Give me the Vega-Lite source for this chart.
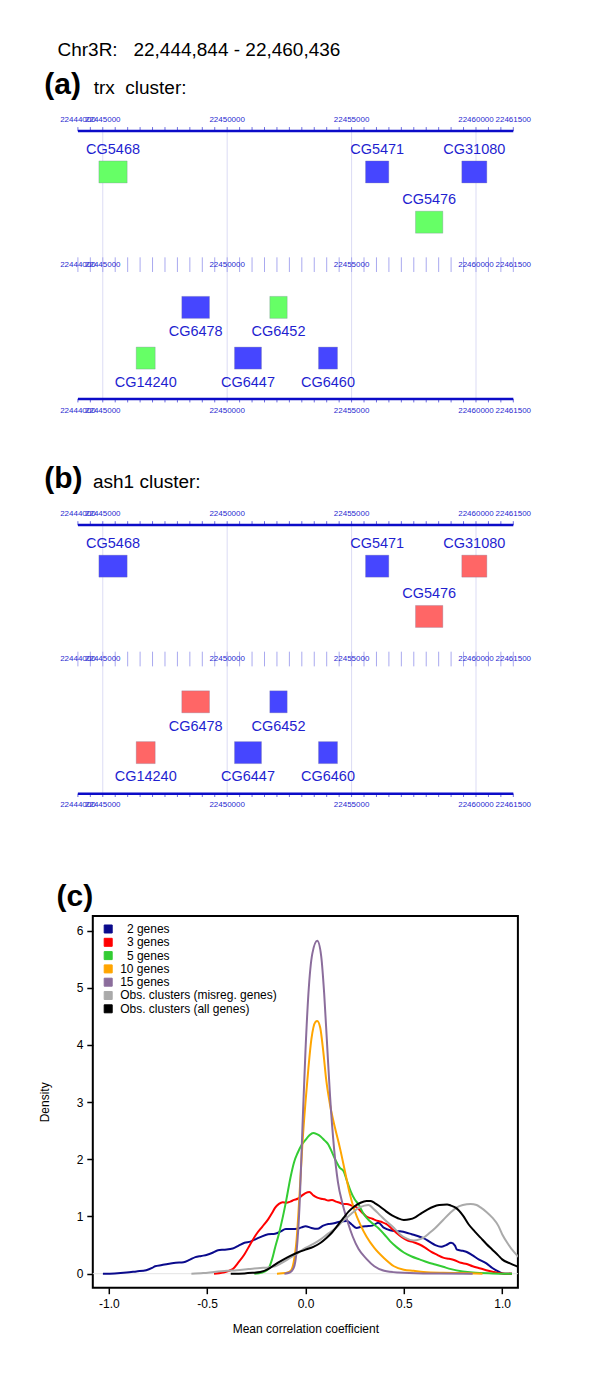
{
  "$schema": "https://vega.github.io/schema/vega-lite/v6.json",
  "background": "white",
  "padding": {"left": 36.8, "top": 0, "right": 4, "bottom": 4},
  "config": {"view": {"stroke": null}, "font": "Liberation Sans"},
  "bounds": "flush",
  "spacing": 0,
  "datasets": {
    "genes": [
      {"gene": "CG5468", "start": 22444844, "end": 22445980, "strand": "+", "lane": 0.917, "trx": "trx cluster", "ash1": "other"},
      {"gene": "CG5471", "start": 22455560, "end": 22456496, "strand": "+", "lane": 0.917, "trx": "other", "ash1": "other"},
      {"gene": "CG31080", "start": 22459430, "end": 22460436, "strand": "+", "lane": 0.917, "trx": "other", "ash1": "ash1 cluster"},
      {"gene": "CG5476", "start": 22457569, "end": 22458667, "strand": "+", "lane": 2.041, "trx": "trx cluster", "ash1": "ash1 cluster"},
      {"gene": "CG6478", "start": 22448176, "end": 22449289, "strand": "-", "lane": 3.948, "trx": "other", "ash1": "ash1 cluster"},
      {"gene": "CG6452", "start": 22451713, "end": 22452412, "strand": "-", "lane": 3.948, "trx": "trx cluster", "ash1": "other"},
      {"gene": "CG14240", "start": 22446343, "end": 22447107, "strand": "-", "lane": 5.083, "trx": "trx cluster", "ash1": "ash1 cluster"},
      {"gene": "CG6447", "start": 22450294, "end": 22451379, "strand": "-", "lane": 5.083, "trx": "other", "ash1": "other"},
      {"gene": "CG6460", "start": 22453670, "end": 22454434, "strand": "-", "lane": 5.083, "trx": "other", "ash1": "other"}
    ],
    "ticks": [
      {"pos": 22444000}, {"pos": 22444500}, {"pos": 22445000}, {"pos": 22445500}, {"pos": 22446000}, {"pos": 22446500},
      {"pos": 22447000}, {"pos": 22447500}, {"pos": 22448000}, {"pos": 22448500}, {"pos": 22449000}, {"pos": 22449500},
      {"pos": 22450000}, {"pos": 22450500}, {"pos": 22451000}, {"pos": 22451500}, {"pos": 22452000}, {"pos": 22452500},
      {"pos": 22453000}, {"pos": 22453500}, {"pos": 22454000}, {"pos": 22454500}, {"pos": 22455000}, {"pos": 22455500},
      {"pos": 22456000}, {"pos": 22456500}, {"pos": 22457000}, {"pos": 22457500}, {"pos": 22458000}, {"pos": 22458500},
      {"pos": 22459000}, {"pos": 22459500}, {"pos": 22460000}, {"pos": 22460500}, {"pos": 22461000}, {"pos": 22461500}
    ],
    "majors": [{"pos": 22445000}, {"pos": 22450000}, {"pos": 22455000}, {"pos": 22460000}],
    "labels": [{"pos": 22444000}, {"pos": 22445000}, {"pos": 22450000}, {"pos": 22455000}, {"pos": 22460000}, {"pos": 22461500}],
    "axislines": [{"from": 22444000, "to": 22461500, "lane": 0}, {"from": 22444000, "to": 22461500, "lane": 6}],
    "density": [
      {"series": "2 genes", "corr": -1.03, "density": 0}, {"series": "2 genes", "corr": -0.97, "density": 0.005}, {"series": "2 genes", "corr": -0.91, "density": 0.02}, {"series": "2 genes", "corr": -0.86, "density": 0.04}, {"series": "2 genes", "corr": -0.81, "density": 0.06}, {"series": "2 genes", "corr": -0.78, "density": 0.1}, {"series": "2 genes", "corr": -0.765, "density": 0.13}, {"series": "2 genes", "corr": -0.73, "density": 0.15}, {"series": "2 genes", "corr": -0.7, "density": 0.17}, {"series": "2 genes", "corr": -0.66, "density": 0.19}, {"series": "2 genes", "corr": -0.62, "density": 0.2}, {"series": "2 genes", "corr": -0.59, "density": 0.24}, {"series": "2 genes", "corr": -0.56, "density": 0.29}, {"series": "2 genes", "corr": -0.53, "density": 0.31}, {"series": "2 genes", "corr": -0.5, "density": 0.33}, {"series": "2 genes", "corr": -0.47, "density": 0.37}, {"series": "2 genes", "corr": -0.445, "density": 0.41}, {"series": "2 genes", "corr": -0.41, "density": 0.42}, {"series": "2 genes", "corr": -0.37, "density": 0.44}, {"series": "2 genes", "corr": -0.34, "density": 0.49}, {"series": "2 genes", "corr": -0.31, "density": 0.54}, {"series": "2 genes", "corr": -0.28, "density": 0.56}, {"series": "2 genes", "corr": -0.25, "density": 0.61}, {"series": "2 genes", "corr": -0.23, "density": 0.64}, {"series": "2 genes", "corr": -0.19, "density": 0.69}, {"series": "2 genes", "corr": -0.155, "density": 0.7}, {"series": "2 genes", "corr": -0.13, "density": 0.73}, {"series": "2 genes", "corr": -0.1, "density": 0.78}, {"series": "2 genes", "corr": -0.07, "density": 0.78}, {"series": "2 genes", "corr": -0.04, "density": 0.785}, {"series": "2 genes", "corr": -0.02, "density": 0.81}, {"series": "2 genes", "corr": 0.0, "density": 0.83}, {"series": "2 genes", "corr": 0.03, "density": 0.8}, {"series": "2 genes", "corr": 0.06, "density": 0.785}, {"series": "2 genes", "corr": 0.09, "density": 0.84}, {"series": "2 genes", "corr": 0.116, "density": 0.87}, {"series": "2 genes", "corr": 0.145, "density": 0.88}, {"series": "2 genes", "corr": 0.174, "density": 0.91}, {"series": "2 genes", "corr": 0.21, "density": 0.92}, {"series": "2 genes", "corr": 0.235, "density": 0.86}, {"series": "2 genes", "corr": 0.26, "density": 0.8}, {"series": "2 genes", "corr": 0.285, "density": 0.82}, {"series": "2 genes", "corr": 0.31, "density": 0.83}, {"series": "2 genes", "corr": 0.34, "density": 0.84}, {"series": "2 genes", "corr": 0.37, "density": 0.89}, {"series": "2 genes", "corr": 0.4, "density": 0.8}, {"series": "2 genes", "corr": 0.43, "density": 0.76}, {"series": "2 genes", "corr": 0.48, "density": 0.74}, {"series": "2 genes", "corr": 0.51, "density": 0.72}, {"series": "2 genes", "corr": 0.54, "density": 0.69}, {"series": "2 genes", "corr": 0.57, "density": 0.66}, {"series": "2 genes", "corr": 0.6, "density": 0.62}, {"series": "2 genes", "corr": 0.63, "density": 0.56}, {"series": "2 genes", "corr": 0.66, "density": 0.5}, {"series": "2 genes", "corr": 0.69, "density": 0.47}, {"series": "2 genes", "corr": 0.715, "density": 0.5}, {"series": "2 genes", "corr": 0.74, "density": 0.54}, {"series": "2 genes", "corr": 0.76, "density": 0.49}, {"series": "2 genes", "corr": 0.77, "density": 0.42}, {"series": "2 genes", "corr": 0.8, "density": 0.4}, {"series": "2 genes", "corr": 0.82, "density": 0.38}, {"series": "2 genes", "corr": 0.85, "density": 0.32}, {"series": "2 genes", "corr": 0.88, "density": 0.25}, {"series": "2 genes", "corr": 0.92, "density": 0.18}, {"series": "2 genes", "corr": 0.95, "density": 0.1}, {"series": "2 genes", "corr": 0.98, "density": 0.04}, {"series": "2 genes", "corr": 1.01, "density": 0.0}, {"series": "2 genes", "corr": 1.05, "density": 0.0},
      {"series": "3 genes", "corr": -0.465, "density": 0}, {"series": "3 genes", "corr": -0.42, "density": 0.02}, {"series": "3 genes", "corr": -0.37, "density": 0.08}, {"series": "3 genes", "corr": -0.34, "density": 0.2}, {"series": "3 genes", "corr": -0.31, "density": 0.34}, {"series": "3 genes", "corr": -0.28, "density": 0.52}, {"series": "3 genes", "corr": -0.25, "density": 0.69}, {"series": "3 genes", "corr": -0.22, "density": 0.82}, {"series": "3 genes", "corr": -0.19, "density": 0.95}, {"series": "3 genes", "corr": -0.17, "density": 1.06}, {"series": "3 genes", "corr": -0.155, "density": 1.15}, {"series": "3 genes", "corr": -0.135, "density": 1.22}, {"series": "3 genes", "corr": -0.116, "density": 1.25}, {"series": "3 genes", "corr": -0.097, "density": 1.24}, {"series": "3 genes", "corr": -0.077, "density": 1.26}, {"series": "3 genes", "corr": -0.058, "density": 1.29}, {"series": "3 genes", "corr": -0.04, "density": 1.31}, {"series": "3 genes", "corr": -0.02, "density": 1.36}, {"series": "3 genes", "corr": 0.0, "density": 1.41}, {"series": "3 genes", "corr": 0.02, "density": 1.43}, {"series": "3 genes", "corr": 0.04, "density": 1.37}, {"series": "3 genes", "corr": 0.06, "density": 1.33}, {"series": "3 genes", "corr": 0.08, "density": 1.31}, {"series": "3 genes", "corr": 0.097, "density": 1.3}, {"series": "3 genes", "corr": 0.115, "density": 1.28}, {"series": "3 genes", "corr": 0.135, "density": 1.29}, {"series": "3 genes", "corr": 0.155, "density": 1.26}, {"series": "3 genes", "corr": 0.174, "density": 1.24}, {"series": "3 genes", "corr": 0.19, "density": 1.22}, {"series": "3 genes", "corr": 0.21, "density": 1.22}, {"series": "3 genes", "corr": 0.235, "density": 1.19}, {"series": "3 genes", "corr": 0.26, "density": 1.16}, {"series": "3 genes", "corr": 0.285, "density": 1.08}, {"series": "3 genes", "corr": 0.31, "density": 1.0}, {"series": "3 genes", "corr": 0.34, "density": 0.96}, {"series": "3 genes", "corr": 0.37, "density": 0.92}, {"series": "3 genes", "corr": 0.39, "density": 0.9}, {"series": "3 genes", "corr": 0.41, "density": 0.87}, {"series": "3 genes", "corr": 0.435, "density": 0.8}, {"series": "3 genes", "corr": 0.46, "density": 0.72}, {"series": "3 genes", "corr": 0.49, "density": 0.64}, {"series": "3 genes", "corr": 0.52, "density": 0.58}, {"series": "3 genes", "corr": 0.55, "density": 0.55}, {"series": "3 genes", "corr": 0.58, "density": 0.51}, {"series": "3 genes", "corr": 0.61, "density": 0.45}, {"series": "3 genes", "corr": 0.64, "density": 0.38}, {"series": "3 genes", "corr": 0.67, "density": 0.33}, {"series": "3 genes", "corr": 0.7, "density": 0.28}, {"series": "3 genes", "corr": 0.73, "density": 0.26}, {"series": "3 genes", "corr": 0.755, "density": 0.24}, {"series": "3 genes", "corr": 0.79, "density": 0.19}, {"series": "3 genes", "corr": 0.82, "density": 0.17}, {"series": "3 genes", "corr": 0.85, "density": 0.13}, {"series": "3 genes", "corr": 0.89, "density": 0.09}, {"series": "3 genes", "corr": 0.93, "density": 0.05}, {"series": "3 genes", "corr": 0.97, "density": 0.02}, {"series": "3 genes", "corr": 1.0, "density": 0.005}, {"series": "3 genes", "corr": 1.05, "density": 0},
      {"series": "5 genes", "corr": -0.26, "density": 0}, {"series": "5 genes", "corr": -0.22, "density": 0.02}, {"series": "5 genes", "corr": -0.19, "density": 0.08}, {"series": "5 genes", "corr": -0.17, "density": 0.25}, {"series": "5 genes", "corr": -0.155, "density": 0.45}, {"series": "5 genes", "corr": -0.135, "density": 0.7}, {"series": "5 genes", "corr": -0.116, "density": 0.98}, {"series": "5 genes", "corr": -0.097, "density": 1.3}, {"series": "5 genes", "corr": -0.077, "density": 1.67}, {"series": "5 genes", "corr": -0.058, "density": 1.95}, {"series": "5 genes", "corr": -0.04, "density": 2.11}, {"series": "5 genes", "corr": -0.02, "density": 2.25}, {"series": "5 genes", "corr": 0.0, "density": 2.34}, {"series": "5 genes", "corr": 0.02, "density": 2.42}, {"series": "5 genes", "corr": 0.039, "density": 2.46}, {"series": "5 genes", "corr": 0.058, "density": 2.44}, {"series": "5 genes", "corr": 0.077, "density": 2.4}, {"series": "5 genes", "corr": 0.097, "density": 2.33}, {"series": "5 genes", "corr": 0.116, "density": 2.26}, {"series": "5 genes", "corr": 0.135, "density": 2.12}, {"series": "5 genes", "corr": 0.155, "density": 1.97}, {"series": "5 genes", "corr": 0.175, "density": 1.85}, {"series": "5 genes", "corr": 0.194, "density": 1.79}, {"series": "5 genes", "corr": 0.21, "density": 1.63}, {"series": "5 genes", "corr": 0.23, "density": 1.44}, {"series": "5 genes", "corr": 0.25, "density": 1.3}, {"series": "5 genes", "corr": 0.27, "density": 1.21}, {"series": "5 genes", "corr": 0.29, "density": 1.08}, {"series": "5 genes", "corr": 0.31, "density": 0.98}, {"series": "5 genes", "corr": 0.34, "density": 0.88}, {"series": "5 genes", "corr": 0.37, "density": 0.8}, {"series": "5 genes", "corr": 0.4, "density": 0.69}, {"series": "5 genes", "corr": 0.43, "density": 0.57}, {"series": "5 genes", "corr": 0.465, "density": 0.46}, {"series": "5 genes", "corr": 0.5, "density": 0.37}, {"series": "5 genes", "corr": 0.54, "density": 0.3}, {"series": "5 genes", "corr": 0.58, "density": 0.25}, {"series": "5 genes", "corr": 0.62, "density": 0.2}, {"series": "5 genes", "corr": 0.66, "density": 0.16}, {"series": "5 genes", "corr": 0.7, "density": 0.12}, {"series": "5 genes", "corr": 0.74, "density": 0.08}, {"series": "5 genes", "corr": 0.8, "density": 0.04}, {"series": "5 genes", "corr": 0.85, "density": 0.02}, {"series": "5 genes", "corr": 0.95, "density": 0.005}, {"series": "5 genes", "corr": 1.05, "density": 0},
      {"series": "10 genes", "corr": -0.145, "density": 0}, {"series": "10 genes", "corr": -0.1, "density": 0.01}, {"series": "10 genes", "corr": -0.075, "density": 0.05}, {"series": "10 genes", "corr": -0.06, "density": 0.2}, {"series": "10 genes", "corr": -0.045, "density": 0.6}, {"series": "10 genes", "corr": -0.03, "density": 1.4}, {"series": "10 genes", "corr": -0.015, "density": 2.3}, {"series": "10 genes", "corr": 0.0, "density": 3.0}, {"series": "10 genes", "corr": 0.015, "density": 3.6}, {"series": "10 genes", "corr": 0.03, "density": 4.1}, {"series": "10 genes", "corr": 0.05, "density": 4.4}, {"series": "10 genes", "corr": 0.06, "density": 4.42}, {"series": "10 genes", "corr": 0.075, "density": 4.3}, {"series": "10 genes", "corr": 0.09, "density": 3.9}, {"series": "10 genes", "corr": 0.105, "density": 3.4}, {"series": "10 genes", "corr": 0.125, "density": 2.95}, {"series": "10 genes", "corr": 0.15, "density": 2.55}, {"series": "10 genes", "corr": 0.175, "density": 2.2}, {"series": "10 genes", "corr": 0.2, "density": 1.8}, {"series": "10 genes", "corr": 0.225, "density": 1.4}, {"series": "10 genes", "corr": 0.25, "density": 1.1}, {"series": "10 genes", "corr": 0.28, "density": 0.85}, {"series": "10 genes", "corr": 0.31, "density": 0.65}, {"series": "10 genes", "corr": 0.35, "density": 0.45}, {"series": "10 genes", "corr": 0.4, "density": 0.27}, {"series": "10 genes", "corr": 0.45, "density": 0.13}, {"series": "10 genes", "corr": 0.5, "density": 0.07}, {"series": "10 genes", "corr": 0.55, "density": 0.05}, {"series": "10 genes", "corr": 0.6, "density": 0.03}, {"series": "10 genes", "corr": 0.7, "density": 0.015}, {"series": "10 genes", "corr": 0.8, "density": 0.01}, {"series": "10 genes", "corr": 0.9, "density": 0},
      {"series": "15 genes", "corr": -0.107, "density": 0}, {"series": "15 genes", "corr": -0.08, "density": 0.02}, {"series": "15 genes", "corr": -0.06, "density": 0.1}, {"series": "15 genes", "corr": -0.045, "density": 0.4}, {"series": "15 genes", "corr": -0.03, "density": 1.2}, {"series": "15 genes", "corr": -0.015, "density": 2.6}, {"series": "15 genes", "corr": 0.0, "density": 3.9}, {"series": "15 genes", "corr": 0.015, "density": 4.9}, {"series": "15 genes", "corr": 0.035, "density": 5.6}, {"series": "15 genes", "corr": 0.06, "density": 5.82}, {"series": "15 genes", "corr": 0.08, "density": 5.55}, {"series": "15 genes", "corr": 0.095, "density": 4.9}, {"series": "15 genes", "corr": 0.11, "density": 4.0}, {"series": "15 genes", "corr": 0.125, "density": 3.1}, {"series": "15 genes", "corr": 0.145, "density": 2.2}, {"series": "15 genes", "corr": 0.165, "density": 1.6}, {"series": "15 genes", "corr": 0.19, "density": 1.2}, {"series": "15 genes", "corr": 0.215, "density": 0.9}, {"series": "15 genes", "corr": 0.24, "density": 0.65}, {"series": "15 genes", "corr": 0.27, "density": 0.43}, {"series": "15 genes", "corr": 0.31, "density": 0.26}, {"series": "15 genes", "corr": 0.35, "density": 0.13}, {"series": "15 genes", "corr": 0.4, "density": 0.05}, {"series": "15 genes", "corr": 0.47, "density": 0.02}, {"series": "15 genes", "corr": 0.6, "density": 0.005}, {"series": "15 genes", "corr": 0.85, "density": 0},
      {"series": "Obs. clusters (misreg. genes)", "corr": -0.58, "density": 0}, {"series": "Obs. clusters (misreg. genes)", "corr": -0.52, "density": 0.01}, {"series": "Obs. clusters (misreg. genes)", "corr": -0.465, "density": 0.03}, {"series": "Obs. clusters (misreg. genes)", "corr": -0.4, "density": 0.05}, {"series": "Obs. clusters (misreg. genes)", "corr": -0.35, "density": 0.06}, {"series": "Obs. clusters (misreg. genes)", "corr": -0.29, "density": 0.08}, {"series": "Obs. clusters (misreg. genes)", "corr": -0.23, "density": 0.1}, {"series": "Obs. clusters (misreg. genes)", "corr": -0.19, "density": 0.11}, {"series": "Obs. clusters (misreg. genes)", "corr": -0.155, "density": 0.13}, {"series": "Obs. clusters (misreg. genes)", "corr": -0.12, "density": 0.19}, {"series": "Obs. clusters (misreg. genes)", "corr": -0.077, "density": 0.28}, {"series": "Obs. clusters (misreg. genes)", "corr": -0.04, "density": 0.36}, {"series": "Obs. clusters (misreg. genes)", "corr": 0.0, "density": 0.45}, {"series": "Obs. clusters (misreg. genes)", "corr": 0.04, "density": 0.52}, {"series": "Obs. clusters (misreg. genes)", "corr": 0.077, "density": 0.6}, {"series": "Obs. clusters (misreg. genes)", "corr": 0.115, "density": 0.7}, {"series": "Obs. clusters (misreg. genes)", "corr": 0.155, "density": 0.8}, {"series": "Obs. clusters (misreg. genes)", "corr": 0.19, "density": 0.92}, {"series": "Obs. clusters (misreg. genes)", "corr": 0.21, "density": 0.98}, {"series": "Obs. clusters (misreg. genes)", "corr": 0.24, "density": 1.07}, {"series": "Obs. clusters (misreg. genes)", "corr": 0.27, "density": 1.15}, {"series": "Obs. clusters (misreg. genes)", "corr": 0.3, "density": 1.19}, {"series": "Obs. clusters (misreg. genes)", "corr": 0.32, "density": 1.2}, {"series": "Obs. clusters (misreg. genes)", "corr": 0.35, "density": 1.12}, {"series": "Obs. clusters (misreg. genes)", "corr": 0.38, "density": 1.02}, {"series": "Obs. clusters (misreg. genes)", "corr": 0.41, "density": 0.92}, {"series": "Obs. clusters (misreg. genes)", "corr": 0.45, "density": 0.8}, {"series": "Obs. clusters (misreg. genes)", "corr": 0.48, "density": 0.69}, {"series": "Obs. clusters (misreg. genes)", "corr": 0.51, "density": 0.62}, {"series": "Obs. clusters (misreg. genes)", "corr": 0.55, "density": 0.58}, {"series": "Obs. clusters (misreg. genes)", "corr": 0.58, "density": 0.6}, {"series": "Obs. clusters (misreg. genes)", "corr": 0.6, "density": 0.63}, {"series": "Obs. clusters (misreg. genes)", "corr": 0.63, "density": 0.71}, {"series": "Obs. clusters (misreg. genes)", "corr": 0.66, "density": 0.8}, {"series": "Obs. clusters (misreg. genes)", "corr": 0.7, "density": 0.94}, {"series": "Obs. clusters (misreg. genes)", "corr": 0.735, "density": 1.06}, {"series": "Obs. clusters (misreg. genes)", "corr": 0.77, "density": 1.16}, {"series": "Obs. clusters (misreg. genes)", "corr": 0.8, "density": 1.2}, {"series": "Obs. clusters (misreg. genes)", "corr": 0.84, "density": 1.22}, {"series": "Obs. clusters (misreg. genes)", "corr": 0.87, "density": 1.2}, {"series": "Obs. clusters (misreg. genes)", "corr": 0.89, "density": 1.16}, {"series": "Obs. clusters (misreg. genes)", "corr": 0.92, "density": 1.08}, {"series": "Obs. clusters (misreg. genes)", "corr": 0.95, "density": 0.98}, {"series": "Obs. clusters (misreg. genes)", "corr": 0.98, "density": 0.84}, {"series": "Obs. clusters (misreg. genes)", "corr": 1.0, "density": 0.69}, {"series": "Obs. clusters (misreg. genes)", "corr": 1.03, "density": 0.52}, {"series": "Obs. clusters (misreg. genes)", "corr": 1.06, "density": 0.38}, {"series": "Obs. clusters (misreg. genes)", "corr": 1.09, "density": 0.27},
      {"series": "Obs. clusters (all genes)", "corr": -0.38, "density": 0}, {"series": "Obs. clusters (all genes)", "corr": -0.31, "density": 0.005}, {"series": "Obs. clusters (all genes)", "corr": -0.27, "density": 0.015}, {"series": "Obs. clusters (all genes)", "corr": -0.23, "density": 0.03}, {"series": "Obs. clusters (all genes)", "corr": -0.19, "density": 0.08}, {"series": "Obs. clusters (all genes)", "corr": -0.155, "density": 0.16}, {"series": "Obs. clusters (all genes)", "corr": -0.115, "density": 0.24}, {"series": "Obs. clusters (all genes)", "corr": -0.077, "density": 0.31}, {"series": "Obs. clusters (all genes)", "corr": -0.04, "density": 0.37}, {"series": "Obs. clusters (all genes)", "corr": 0.0, "density": 0.42}, {"series": "Obs. clusters (all genes)", "corr": 0.04, "density": 0.47}, {"series": "Obs. clusters (all genes)", "corr": 0.077, "density": 0.54}, {"series": "Obs. clusters (all genes)", "corr": 0.105, "density": 0.62}, {"series": "Obs. clusters (all genes)", "corr": 0.135, "density": 0.72}, {"series": "Obs. clusters (all genes)", "corr": 0.165, "density": 0.85}, {"series": "Obs. clusters (all genes)", "corr": 0.194, "density": 0.98}, {"series": "Obs. clusters (all genes)", "corr": 0.22, "density": 1.09}, {"series": "Obs. clusters (all genes)", "corr": 0.25, "density": 1.18}, {"series": "Obs. clusters (all genes)", "corr": 0.28, "density": 1.24}, {"series": "Obs. clusters (all genes)", "corr": 0.31, "density": 1.27}, {"series": "Obs. clusters (all genes)", "corr": 0.33, "density": 1.27}, {"series": "Obs. clusters (all genes)", "corr": 0.35, "density": 1.24}, {"series": "Obs. clusters (all genes)", "corr": 0.38, "density": 1.17}, {"series": "Obs. clusters (all genes)", "corr": 0.41, "density": 1.09}, {"series": "Obs. clusters (all genes)", "corr": 0.44, "density": 1.02}, {"series": "Obs. clusters (all genes)", "corr": 0.47, "density": 0.97}, {"series": "Obs. clusters (all genes)", "corr": 0.5, "density": 0.94}, {"series": "Obs. clusters (all genes)", "corr": 0.53, "density": 0.95}, {"series": "Obs. clusters (all genes)", "corr": 0.56, "density": 0.99}, {"series": "Obs. clusters (all genes)", "corr": 0.59, "density": 1.06}, {"series": "Obs. clusters (all genes)", "corr": 0.62, "density": 1.12}, {"series": "Obs. clusters (all genes)", "corr": 0.65, "density": 1.17}, {"series": "Obs. clusters (all genes)", "corr": 0.68, "density": 1.2}, {"series": "Obs. clusters (all genes)", "corr": 0.72, "density": 1.21}, {"series": "Obs. clusters (all genes)", "corr": 0.74, "density": 1.19}, {"series": "Obs. clusters (all genes)", "corr": 0.765, "density": 1.15}, {"series": "Obs. clusters (all genes)", "corr": 0.8, "density": 1.02}, {"series": "Obs. clusters (all genes)", "corr": 0.83, "density": 0.86}, {"series": "Obs. clusters (all genes)", "corr": 0.86, "density": 0.74}, {"series": "Obs. clusters (all genes)", "corr": 0.89, "density": 0.63}, {"series": "Obs. clusters (all genes)", "corr": 0.92, "density": 0.52}, {"series": "Obs. clusters (all genes)", "corr": 0.95, "density": 0.42}, {"series": "Obs. clusters (all genes)", "corr": 0.98, "density": 0.32}, {"series": "Obs. clusters (all genes)", "corr": 1.0, "density": 0.25}, {"series": "Obs. clusters (all genes)", "corr": 1.04, "density": 0.18}, {"series": "Obs. clusters (all genes)", "corr": 1.075, "density": 0.13}, {"series": "Obs. clusters (all genes)", "corr": 1.09, "density": 0.11}
    ]
  },
  "vconcat": [
    {
      "width": 427.7,
      "height": 439.8,
      "layer": [
        {"data": {"name": "majors"}, "mark": {"type": "rule", "color": "#dcdcf4", "strokeWidth": 1},
         "encoding": {"x": {"field": "pos", "type": "quantitative", "scale": {"domain": [22444599, 22461789], "nice": false, "zero": false}, "axis": null},
                      "y": {"datum": 0, "type": "quantitative", "scale": {"domain": [-2.82, 6.8], "reverse": true, "nice": false, "zero": false}, "axis": null}, "y2": {"datum": 6}}},
        {"data": {"name": "ticks"}, "mark": {"type": "rule", "color": "#a9a9ef", "strokeWidth": 1},
         "encoding": {"x": {"field": "pos", "type": "quantitative", "scale": {"domain": [22444599, 22461789], "nice": false, "zero": false}, "axis": null},
                      "y": {"datum": 2.828, "type": "quantitative", "scale": {"domain": [-2.82, 6.8], "reverse": true, "nice": false, "zero": false}, "axis": null}, "y2": {"datum": 3.156}}},
        {"data": {"name": "ticks"}, "mark": {"type": "rule", "color": "#6a6ae0", "strokeWidth": 1},
         "encoding": {"x": {"field": "pos", "type": "quantitative", "scale": {"domain": [22444599, 22461789], "nice": false, "zero": false}, "axis": null},
                      "y": {"datum": -0.0875, "type": "quantitative", "scale": {"domain": [-2.82, 6.8], "reverse": true, "nice": false, "zero": false}, "axis": null}, "y2": {"datum": 0}}},
        {"data": {"name": "ticks"}, "mark": {"type": "rule", "color": "#6a6ae0", "strokeWidth": 1},
         "encoding": {"x": {"field": "pos", "type": "quantitative", "scale": {"domain": [22444599, 22461789], "nice": false, "zero": false}, "axis": null},
                      "y": {"datum": 6, "type": "quantitative", "scale": {"domain": [-2.82, 6.8], "reverse": true, "nice": false, "zero": false}, "axis": null}, "y2": {"datum": 6.075}}},
        {"data": {"name": "axislines"}, "mark": {"type": "rule", "color": "#0c0cc8", "strokeWidth": 2.5},
         "encoding": {"x": {"field": "from", "type": "quantitative", "scale": {"domain": [22444599, 22461789], "nice": false, "zero": false}, "axis": null}, "x2": {"field": "to"},
                      "y": {"field": "lane", "type": "quantitative", "scale": {"domain": [-2.82, 6.8], "reverse": true, "nice": false, "zero": false}, "axis": null}}},
        {"data": {"name": "labels"}, "mark": {"type": "text", "fontSize": 8, "color": "#2a2ad0", "baseline": "middle", "dy": -10.7},
         "encoding": {"x": {"field": "pos", "type": "quantitative", "scale": {"domain": [22444599, 22461789], "nice": false, "zero": false}, "axis": null},
                      "y": {"datum": 0, "type": "quantitative", "scale": {"domain": [-2.82, 6.8], "reverse": true, "nice": false, "zero": false}, "axis": null},
                      "text": {"field": "pos", "type": "quantitative", "format": "d"}}},
        {"data": {"name": "labels"}, "mark": {"type": "text", "fontSize": 8, "color": "#2a2ad0", "baseline": "middle"},
         "encoding": {"x": {"field": "pos", "type": "quantitative", "scale": {"domain": [22444599, 22461789], "nice": false, "zero": false}, "axis": null},
                      "y": {"datum": 2.997, "type": "quantitative", "scale": {"domain": [-2.82, 6.8], "reverse": true, "nice": false, "zero": false}, "axis": null},
                      "text": {"field": "pos", "type": "quantitative", "format": "d"}}},
        {"data": {"name": "labels"}, "mark": {"type": "text", "fontSize": 8, "color": "#2a2ad0", "baseline": "middle", "dy": 11.7},
         "encoding": {"x": {"field": "pos", "type": "quantitative", "scale": {"domain": [22444599, 22461789], "nice": false, "zero": false}, "axis": null},
                      "y": {"datum": 6, "type": "quantitative", "scale": {"domain": [-2.82, 6.8], "reverse": true, "nice": false, "zero": false}, "axis": null},
                      "text": {"field": "pos", "type": "quantitative", "format": "d"}}},
        {"data": {"name": "genes"}, "mark": {"type": "bar", "orient": "horizontal", "size": 22, "stroke": "#7a7a9a", "strokeWidth": 0.6, "strokeOpacity": 0.5},
         "encoding": {"x": {"field": "start", "type": "quantitative", "scale": {"domain": [22444599, 22461789], "nice": false, "zero": false}, "axis": null}, "x2": {"field": "end"},
                      "y": {"field": "lane", "type": "quantitative", "scale": {"domain": [-2.82, 6.8], "reverse": true, "nice": false, "zero": false}, "axis": null},
                      "fill": {"field": "trx", "type": "nominal", "scale": {"domain": ["trx cluster", "ash1 cluster", "other"], "range": ["#66ff66", "#ff6666", "#4646ff"]}, "legend": null}}},
        {"data": {"name": "genes"},
         "transform": [{"filter": "datum.strand === '+'"}, {"fold": ["start", "end"], "as": ["edge", "pos"]}, {"aggregate": [{"op": "mean", "field": "pos", "as": "mid"}], "groupby": ["gene", "lane"]}],
         "mark": {"type": "text", "fontSize": 14.5, "color": "#1f1fd0", "dy": -18, "baseline": "alphabetic", "align": "center"},
         "encoding": {"x": {"field": "mid", "type": "quantitative", "scale": {"domain": [22444599, 22461789], "nice": false, "zero": false}, "axis": null},
                      "y": {"field": "lane", "type": "quantitative", "scale": {"domain": [-2.82, 6.8], "reverse": true, "nice": false, "zero": false}, "axis": null},
                      "text": {"field": "gene", "type": "nominal"}}},
        {"data": {"name": "genes"},
         "transform": [{"filter": "datum.strand === '-'"}, {"fold": ["start", "end"], "as": ["edge", "pos"]}, {"aggregate": [{"op": "mean", "field": "pos", "as": "mid"}], "groupby": ["gene", "lane"]}],
         "mark": {"type": "text", "fontSize": 14.5, "color": "#1f1fd0", "dy": 28.7, "baseline": "alphabetic", "align": "center"},
         "encoding": {"x": {"field": "mid", "type": "quantitative", "scale": {"domain": [22444599, 22461789], "nice": false, "zero": false}, "axis": null},
                      "y": {"field": "lane", "type": "quantitative", "scale": {"domain": [-2.82, 6.8], "reverse": true, "nice": false, "zero": false}, "axis": null},
                      "text": {"field": "gene", "type": "nominal"}}},
        {"data": {"values": [{}]}, "mark": {"type": "text", "fontSize": 19, "align": "left", "baseline": "alphabetic", "color": "black"},
         "encoding": {"x": {"datum": 22443180, "type": "quantitative", "scale": {"domain": [22444599, 22461789], "nice": false, "zero": false}, "axis": null},
                      "y": {"datum": -1.673, "type": "quantitative", "scale": {"domain": [-2.82, 6.8], "reverse": true, "nice": false, "zero": false}, "axis": null},
                      "text": {"value": "Chr3R:\u00a0\u00a0 22,444,844 - 22,460,436"}}},
        {"data": {"values": [{}]}, "mark": {"type": "text", "fontSize": 30, "fontWeight": "bold", "align": "left", "baseline": "alphabetic", "color": "black"},
         "encoding": {"x": {"datum": 22442650, "type": "quantitative", "scale": {"domain": [22444599, 22461789], "nice": false, "zero": false}, "axis": null},
                      "y": {"datum": -0.831, "type": "quantitative", "scale": {"domain": [-2.82, 6.8], "reverse": true, "nice": false, "zero": false}, "axis": null},
                      "text": {"value": "(a)"}}},
        {"data": {"values": [{}]}, "mark": {"type": "text", "fontSize": 19, "align": "left", "baseline": "alphabetic", "color": "black"},
         "encoding": {"x": {"datum": 22444635, "type": "quantitative", "scale": {"domain": [22444599, 22461789], "nice": false, "zero": false}, "axis": null},
                      "y": {"datum": -0.831, "type": "quantitative", "scale": {"domain": [-2.82, 6.8], "reverse": true, "nice": false, "zero": false}, "axis": null},
                      "text": {"value": "trx\u00a0 cluster:"}}}
      ]
    },
    {
      "width": 427.7,
      "height": 475.2,
      "layer": [
        {"data": {"name": "majors"}, "mark": {"type": "rule", "color": "#dcdcf4", "strokeWidth": 1},
         "encoding": {"x": {"field": "pos", "type": "quantitative", "scale": {"domain": [22444599, 22461789], "nice": false, "zero": false}, "axis": null},
                      "y": {"datum": 0, "type": "quantitative", "scale": {"domain": [-1.79, 8.604], "reverse": true, "nice": false, "zero": false}, "axis": null}, "y2": {"datum": 6}}},
        {"data": {"name": "ticks"}, "mark": {"type": "rule", "color": "#a9a9ef", "strokeWidth": 1},
         "encoding": {"x": {"field": "pos", "type": "quantitative", "scale": {"domain": [22444599, 22461789], "nice": false, "zero": false}, "axis": null},
                      "y": {"datum": 2.828, "type": "quantitative", "scale": {"domain": [-1.79, 8.604], "reverse": true, "nice": false, "zero": false}, "axis": null}, "y2": {"datum": 3.156}}},
        {"data": {"name": "ticks"}, "mark": {"type": "rule", "color": "#6a6ae0", "strokeWidth": 1},
         "encoding": {"x": {"field": "pos", "type": "quantitative", "scale": {"domain": [22444599, 22461789], "nice": false, "zero": false}, "axis": null},
                      "y": {"datum": -0.0875, "type": "quantitative", "scale": {"domain": [-1.79, 8.604], "reverse": true, "nice": false, "zero": false}, "axis": null}, "y2": {"datum": 0}}},
        {"data": {"name": "ticks"}, "mark": {"type": "rule", "color": "#6a6ae0", "strokeWidth": 1},
         "encoding": {"x": {"field": "pos", "type": "quantitative", "scale": {"domain": [22444599, 22461789], "nice": false, "zero": false}, "axis": null},
                      "y": {"datum": 6, "type": "quantitative", "scale": {"domain": [-1.79, 8.604], "reverse": true, "nice": false, "zero": false}, "axis": null}, "y2": {"datum": 6.075}}},
        {"data": {"name": "axislines"}, "mark": {"type": "rule", "color": "#0c0cc8", "strokeWidth": 2.5},
         "encoding": {"x": {"field": "from", "type": "quantitative", "scale": {"domain": [22444599, 22461789], "nice": false, "zero": false}, "axis": null}, "x2": {"field": "to"},
                      "y": {"field": "lane", "type": "quantitative", "scale": {"domain": [-1.79, 8.604], "reverse": true, "nice": false, "zero": false}, "axis": null}}},
        {"data": {"name": "labels"}, "mark": {"type": "text", "fontSize": 8, "color": "#2a2ad0", "baseline": "middle", "dy": -10.7},
         "encoding": {"x": {"field": "pos", "type": "quantitative", "scale": {"domain": [22444599, 22461789], "nice": false, "zero": false}, "axis": null},
                      "y": {"datum": 0, "type": "quantitative", "scale": {"domain": [-1.79, 8.604], "reverse": true, "nice": false, "zero": false}, "axis": null},
                      "text": {"field": "pos", "type": "quantitative", "format": "d"}}},
        {"data": {"name": "labels"}, "mark": {"type": "text", "fontSize": 8, "color": "#2a2ad0", "baseline": "middle"},
         "encoding": {"x": {"field": "pos", "type": "quantitative", "scale": {"domain": [22444599, 22461789], "nice": false, "zero": false}, "axis": null},
                      "y": {"datum": 2.997, "type": "quantitative", "scale": {"domain": [-1.79, 8.604], "reverse": true, "nice": false, "zero": false}, "axis": null},
                      "text": {"field": "pos", "type": "quantitative", "format": "d"}}},
        {"data": {"name": "labels"}, "mark": {"type": "text", "fontSize": 8, "color": "#2a2ad0", "baseline": "middle", "dy": 11.7},
         "encoding": {"x": {"field": "pos", "type": "quantitative", "scale": {"domain": [22444599, 22461789], "nice": false, "zero": false}, "axis": null},
                      "y": {"datum": 6, "type": "quantitative", "scale": {"domain": [-1.79, 8.604], "reverse": true, "nice": false, "zero": false}, "axis": null},
                      "text": {"field": "pos", "type": "quantitative", "format": "d"}}},
        {"data": {"name": "genes"}, "mark": {"type": "bar", "orient": "horizontal", "size": 22, "stroke": "#7a7a9a", "strokeWidth": 0.6, "strokeOpacity": 0.5},
         "encoding": {"x": {"field": "start", "type": "quantitative", "scale": {"domain": [22444599, 22461789], "nice": false, "zero": false}, "axis": null}, "x2": {"field": "end"},
                      "y": {"field": "lane", "type": "quantitative", "scale": {"domain": [-1.79, 8.604], "reverse": true, "nice": false, "zero": false}, "axis": null},
                      "fill": {"field": "ash1", "type": "nominal", "scale": {"domain": ["trx cluster", "ash1 cluster", "other"], "range": ["#66ff66", "#ff6666", "#4646ff"]}, "legend": null}}},
        {"data": {"name": "genes"},
         "transform": [{"filter": "datum.strand === '+'"}, {"fold": ["start", "end"], "as": ["edge", "pos"]}, {"aggregate": [{"op": "mean", "field": "pos", "as": "mid"}], "groupby": ["gene", "lane"]}],
         "mark": {"type": "text", "fontSize": 14.5, "color": "#1f1fd0", "dy": -18, "baseline": "alphabetic", "align": "center"},
         "encoding": {"x": {"field": "mid", "type": "quantitative", "scale": {"domain": [22444599, 22461789], "nice": false, "zero": false}, "axis": null},
                      "y": {"field": "lane", "type": "quantitative", "scale": {"domain": [-1.79, 8.604], "reverse": true, "nice": false, "zero": false}, "axis": null},
                      "text": {"field": "gene", "type": "nominal"}}},
        {"data": {"name": "genes"},
         "transform": [{"filter": "datum.strand === '-'"}, {"fold": ["start", "end"], "as": ["edge", "pos"]}, {"aggregate": [{"op": "mean", "field": "pos", "as": "mid"}], "groupby": ["gene", "lane"]}],
         "mark": {"type": "text", "fontSize": 14.5, "color": "#1f1fd0", "dy": 28.7, "baseline": "alphabetic", "align": "center"},
         "encoding": {"x": {"field": "mid", "type": "quantitative", "scale": {"domain": [22444599, 22461789], "nice": false, "zero": false}, "axis": null},
                      "y": {"field": "lane", "type": "quantitative", "scale": {"domain": [-1.79, 8.604], "reverse": true, "nice": false, "zero": false}, "axis": null},
                      "text": {"field": "gene", "type": "nominal"}}},
        {"data": {"values": [{}]}, "mark": {"type": "text", "fontSize": 30, "fontWeight": "bold", "align": "left", "baseline": "alphabetic", "color": "black"},
         "encoding": {"x": {"datum": 22442650, "type": "quantitative", "scale": {"domain": [22444599, 22461789], "nice": false, "zero": false}, "axis": null},
                      "y": {"datum": -0.833, "type": "quantitative", "scale": {"domain": [-1.79, 8.604], "reverse": true, "nice": false, "zero": false}, "axis": null},
                      "text": {"value": "(b)"}}},
        {"data": {"values": [{}]}, "mark": {"type": "text", "fontSize": 19, "align": "left", "baseline": "alphabetic", "color": "black"},
         "encoding": {"x": {"datum": 22444607, "type": "quantitative", "scale": {"domain": [22444599, 22461789], "nice": false, "zero": false}, "axis": null},
                      "y": {"datum": -0.833, "type": "quantitative", "scale": {"domain": [-1.79, 8.604], "reverse": true, "nice": false, "zero": false}, "axis": null},
                      "text": {"value": "ash1 cluster:"}}}
      ]
    },
    {
      "width": 425.1,
      "height": 371.7,
      "view": {"stroke": "black", "strokeWidth": 2},
      "title": {"text": "(c)", "anchor": "start", "frame": "group", "fontSize": 30, "fontWeight": "bold", "color": "black", "dx": -36.3, "offset": 4},
      "layer": [
        {"data": {"values": [{}]}, "mark": {"type": "rule", "color": "#e4e4e4", "strokeWidth": 1},
         "encoding": {"y": {"datum": 0, "type": "quantitative", "scale": {"domain": [-0.245, 6.254], "nice": false, "zero": false},
                            "axis": {"values": [0, 1, 2, 3, 4, 5, 6], "format": "d", "title": "Density", "grid": false, "domain": false, "tickSize": 6, "tickColor": "black", "tickWidth": 1.5, "labelFontSize": 12, "labelColor": "black", "labelPadding": 4, "titleFontSize": 12, "titleFontWeight": "normal", "titleColor": "black", "titlePadding": 25}}}},
        {"data": {"name": "density"},
         "mark": {"type": "line", "strokeWidth": 2, "clip": true, "interpolate": "monotone"},
         "encoding": {
           "x": {"field": "corr", "type": "quantitative", "scale": {"domain": [-1.0814, 1.08], "nice": false, "zero": false},
                 "axis": {"values": [-1, -0.5, 0, 0.5, 1], "labelExpr": "replace(format(datum.value, '.1f'), '\u2212', '-')", "title": "Mean correlation coefficient", "grid": false, "domain": false, "tickSize": 6, "tickColor": "black", "tickWidth": 1.5, "labelFontSize": 12, "labelColor": "black", "labelPadding": 4.5, "labelOverlap": false, "labelFlush": false, "titleFontSize": 12, "titleFontWeight": "normal", "titleColor": "black", "titlePadding": 14}},
           "y": {"field": "density", "type": "quantitative", "scale": {"domain": [-0.245, 6.254], "nice": false, "zero": false},
                 "axis": {"values": [0, 1, 2, 3, 4, 5, 6], "format": "d", "title": "Density", "grid": false, "domain": false, "tickSize": 6, "tickColor": "black", "tickWidth": 1.5, "labelFontSize": 12, "labelColor": "black", "labelPadding": 4, "titleFontSize": 12, "titleFontWeight": "normal", "titleColor": "black", "titlePadding": 25}},
           "color": {"field": "series", "type": "nominal",
                     "scale": {"domain": ["2 genes", "3 genes", "5 genes", "10 genes", "15 genes", "Obs. clusters (misreg. genes)", "Obs. clusters (all genes)"],
                               "range": ["#0a0a8c", "#ff0000", "#33cc33", "#ffa500", "#8b6d9c", "#aaaaaa", "#000000"]},
                     "legend": {"orient": "none", "legendX": 9.4, "legendY": 923, "title": null, "padding": 0, "symbolType": "square", "symbolSize": 64, "symbolStrokeWidth": 1, "labelFontSize": 12, "labelColor": "black", "labelOffset": 6, "rowPadding": 1.3,
                                "encode": {"symbols": {"update": {"fill": {"scale": "color", "field": "value"}, "stroke": {"value": "black"}, "strokeWidth": {"value": 1}, "opacity": {"value": 1}, "fillOpacity": {"value": 1}}},
                                           "labels": {"update": {"dx": {"signal": "(datum.label == '2 genes' || datum.label == '3 genes' || datum.label == '5 genes') ? 6.7 : 0"}}}}}}
         }}
      ]
    }
  ]
}
